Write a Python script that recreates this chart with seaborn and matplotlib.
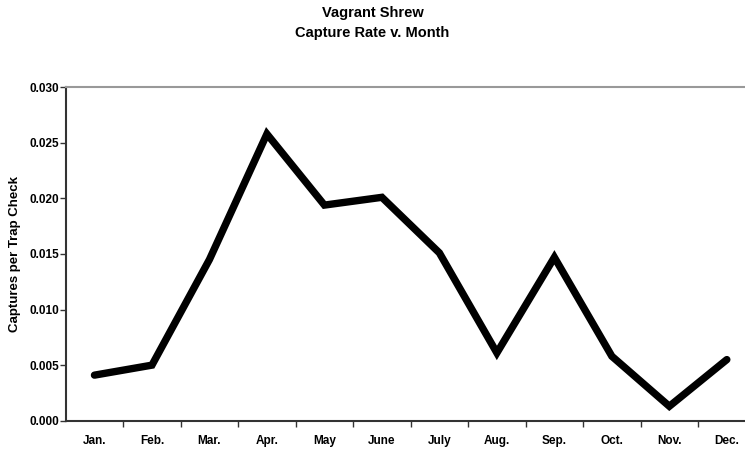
import numpy as np
import pandas as pd
import seaborn as sns
import matplotlib.pyplot as plt
from matplotlib.ticker import FixedLocator, FormatStrFormatter

months = ["Jan.", "Feb.", "Mar.", "Apr.", "May", "June",
          "July", "Aug.", "Sep.", "Oct.", "Nov.", "Dec."]
capture_rate = [0.0041, 0.0050, 0.0145, 0.0258, 0.0194, 0.0201,
                0.0151, 0.0061, 0.0147, 0.0058, 0.0013, 0.0055]
y_ticks = [0.000, 0.005, 0.010, 0.015, 0.020, 0.025, 0.030]

df = pd.DataFrame({"month": months, "rate": capture_rate})
df["pos"] = np.arange(len(months))

sns.set_style("white")
plt.rcParams['font.family'] = ['Liberation Sans', 'DejaVu Sans']
plt.rcParams['font.weight'] = 'bold'
plt.rcParams['text.color'] = 'black'
plt.rcParams['axes.labelcolor'] = 'black'

fig = plt.figure(figsize=(7.45, 4.49), dpi=100)
ax = fig.add_axes([0.0882, 0.063, 0.926, 0.7426])

sns.lineplot(data=df, x="pos", y="rate", color="black", linewidth=5.3,
             solid_capstyle="round", solid_joinstyle="miter", ax=ax)

ax.set_xlim(-0.5, len(months) - 0.5)
ax.set_ylim(0, 0.030)

# month labels centred, tick marks on category boundaries
ax.set_xticks(df["pos"])
ax.set_xticklabels(months, fontsize=8.5, fontweight="bold")
ax.tick_params(axis="x", which="major", length=0, pad=10, labelcolor="black")
ax.xaxis.set_minor_locator(FixedLocator(np.arange(0.5, len(months) - 0.5, 1)))
ax.tick_params(axis="x", which="minor", length=4, width=1, color="#333333",
               direction="out", bottom=True)

ax.set_yticks(y_ticks)
ax.yaxis.set_major_formatter(FormatStrFormatter("%.3f"))
ax.tick_params(axis="y", length=4, width=1, color="#333333", direction="out",
               left=True, labelsize=8.5, pad=1, labelcolor="black")
for lab in ax.get_yticklabels():
    lab.set_fontweight("bold")

ax.set_xlabel("")
ax.set_ylabel("Captures per Trap Check", fontsize=9.5, fontweight="bold", labelpad=6)

for side in ["left", "bottom"]:
    ax.spines[side].set_color("#333333")
    ax.spines[side].set_linewidth(1.5)
for side in ["top", "right"]:
    ax.spines[side].set_color("#999999")
    ax.spines[side].set_linewidth(1.5)

fig.text(0.5, 0.971, "Vagrant Shrew", ha="center", va="center",
         fontsize=10.5, fontweight="bold")
fig.text(0.5, 0.926, "Capture Rate v. Month", ha="center", va="center",
         fontsize=10.5, fontweight="bold")

fig.savefig("out.png", dpi=100)
